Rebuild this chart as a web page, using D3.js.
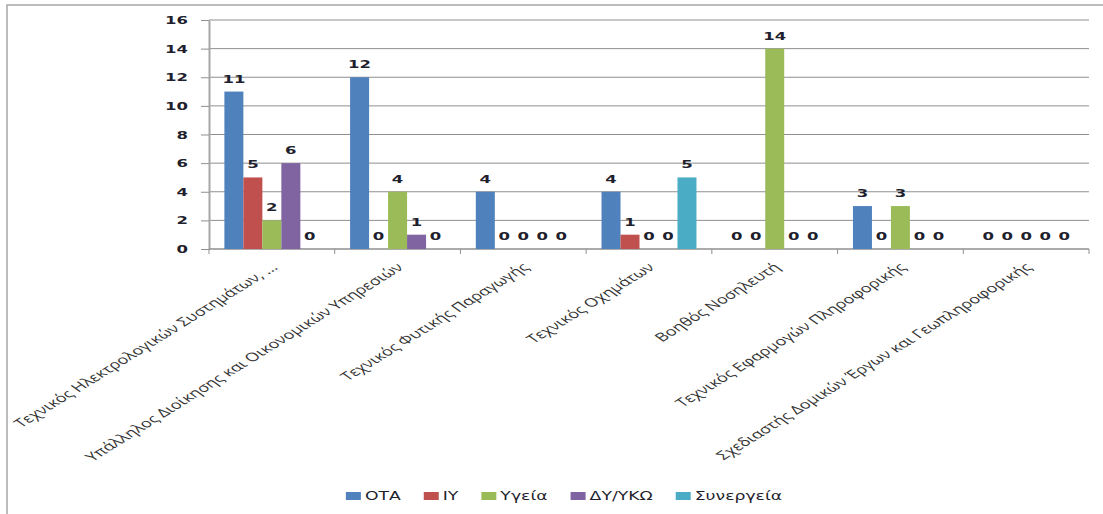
<!DOCTYPE html>
<html>
<head>
<meta charset="utf-8">
<script src="https://cdn.jsdelivr.net/npm/d3@7"></script>
<style>
    body { margin: 0; background: #fff; }
    svg { display: block; }
</style>
</head>
<body>
<div id="chart"></div>
<script>
// == DATA == //
const categories = [
    "Τεχνικός Ηλεκτρολογικών Συστημάτων, ...",
    "Υπάλληλος Διοίκησης και Οικονομικών Υπηρεσιών",
    "Τεχνικός Φυτικής Παραγωγής",
    "Τεχνικός Οχημάτων",
    "Βοηθός Νοσηλευτή",
    "Τεχνικός Εφαρμογών Πληροφορικής",
    "Σχεδιαστής Δομικών Έργων και Γεωπληροφορικής"
];
const seriesNames = ["ΟΤΑ", "ΙΥ", "Υγεία", "ΔΥ/ΥΚΩ", "Συνεργεία"];
const ota = [11, 12, 4, 4, 0, 3, 0];
const iy = [5, 0, 0, 1, 0, 0, 0];
const ygeia = [2, 4, 0, 0, 14, 3, 0];
const dyyko = [6, 1, 0, 0, 0, 0, 0];
const synergeia = [0, 0, 0, 5, 0, 0, 0];
const yTicks = [0, 2, 4, 6, 8, 10, 12, 14, 16];
const colors = ["#4F81BD", "#C0504D", "#9BBB59", "#8064A2", "#4BACC6"];

const seriesValues = [ota, iy, ygeia, dyyko, synergeia];

// == SVG == //
const width = 1103, height = 514;
const margin = {top: 20, right: 14, bottom: 265, left: 209};
const sx = 1.5; // the picture is stretched sideways, text too

const svg = d3.select("#chart").append("svg")
    .attr("width", width)
    .attr("height", height);

// chart frame (only left and top edges visible)
svg.append("rect")
    .attr("x", 7).attr("y", 5)
    .attr("width", 1300).attr("height", 700)
    .attr("fill", "none")
    .attr("stroke", "#a6a6a6")
    .attr("stroke-width", 1.5);

// scales
const x0 = d3.scaleBand()
    .domain(categories)
    .range([margin.left, width - margin.right])
    .paddingInner(0).paddingOuter(0);

const x1 = d3.scaleBand()
    .domain(seriesNames)
    .range([0, x0.bandwidth()])
    .paddingInner(0).paddingOuter(0.81);

const y = d3.scaleLinear()
    .domain([0, 16])
    .range([height - margin.bottom, margin.top]);

const x0min = x0.range()[0], x0max = x0.range()[1];

// gridlines
svg.append("g")
    .attr("class", "grid")
    .selectAll("line")
    .data(yTicks.slice(1))
    .join("line")
    .attr("x1", x0min).attr("x2", x0max)
    .attr("y1", d => y(d)).attr("y2", d => y(d))
    .attr("stroke", "#8f8f8f")
    .attr("stroke-width", 1);

// y axis
const yAxis = svg.append("g")
    .attr("transform", `translate(${x0min},0)`)
    .call(d3.axisLeft(y).tickValues(yTicks).tickSize(8).tickSizeOuter(0));

yAxis.select(".domain").attr("stroke", "#a6a6a6").attr("stroke-width", 2);
yAxis.selectAll(".tick line").attr("stroke", "#8f8f8f");
yAxis.selectAll(".tick text")
    .attr("x", -21 / sx)
    .attr("transform", `scale(${sx},1)`)
    .attr("font-family", "DejaVu Sans, Verdana, sans-serif")
    .attr("font-weight", "bold")
    .attr("font-size", "11px")
    .attr("fill", "#1f1f2e");

// x axis line + ticks at band edges
const xAxis = svg.append("g");
xAxis.append("line")
    .attr("x1", x0min).attr("x2", x0max)
    .attr("y1", y(0)).attr("y2", y(0))
    .attr("stroke", "#8f8f8f")
    .attr("stroke-width", 1.5);

const edges = categories.map(c => x0(c)).concat([x0max]);
xAxis.selectAll(".xtick")
    .data(edges)
    .join("line")
    .attr("class", "xtick")
    .attr("x1", d => d).attr("x2", d => d)
    .attr("y1", y(0)).attr("y2", y(0) + 5)
    .attr("stroke", "#8f8f8f");

// bars
const groups = svg.append("g")
    .selectAll(".cat")
    .data(categories)
    .join("g")
    .attr("class", "cat")
    .attr("transform", d => `translate(${x0(d)},0)`);

const cells = (c, ci) => seriesNames.map((s, si) => ({s: s, v: seriesValues[si][ci], color: colors[si]}));

groups.selectAll("rect")
    .data((c, ci) => cells(c, ci))
    .join("rect")
    .attr("x", d => x1(d.s))
    .attr("width", x1.bandwidth())
    .attr("y", d => y(d.v))
    .attr("height", d => y(0) - y(d.v))
    .attr("fill", d => d.color);

// value labels
groups.selectAll("text")
    .data((c, ci) => cells(c, ci))
    .join("text")
    .attr("transform", d => `translate(${x1(d.s) + x1.bandwidth() / 2},${y(d.v) - 9}) scale(${sx},1)`)
    .attr("text-anchor", "middle")
    .attr("font-family", "DejaVu Sans, Verdana, sans-serif")
    .attr("font-weight", "bold")
    .attr("font-size", "11px")
    .attr("fill", "#1f1f2e")
    .text(d => d.v);

// category labels (rotated)
svg.append("g")
    .selectAll("text")
    .data(categories)
    .join("text")
    .attr("transform", d => `translate(${x0(d) + x0.bandwidth() / 2 - 2},${y(0) + 13}) scale(${sx},1) rotate(-43)`)
    .attr("text-anchor", "end")
    .attr("dy", "0.71em")
    .attr("font-family", "Open Sans, Noto Sans, sans-serif")
    .attr("font-size", "12px")
    .attr("fill", "#333333")
    .text(d => d);

// legend
const legend = svg.append("g").attr("class", "legend");
const items = legend.selectAll("g")
    .data(seriesNames)
    .join("g");

items.append("rect")
    .attr("width", 15).attr("height", 8)
    .attr("y", -8)
    .attr("fill", (d, i) => colors[i]);

items.append("text")
    .attr("transform", `translate(19,0) scale(${sx},1)`)
    .attr("font-family", "DejaVu Sans, Verdana, sans-serif")
    .attr("font-size", "11.5px")
    .attr("fill", "#1f1f2e")
    .text(d => d);

let offset = 0;
const itemPos = [];
items.each(function() {
    itemPos.push(offset);
    let w = d3.select(this).select("text").node().getComputedTextLength() * sx;
    offset += 19 + w + 23;
});
const legendWidth = offset - 23;
const legendX = 564 - legendWidth / 2;
items.attr("transform", (d, i) => `translate(${legendX + itemPos[i]},500)`);
</script>
</body>
</html>
